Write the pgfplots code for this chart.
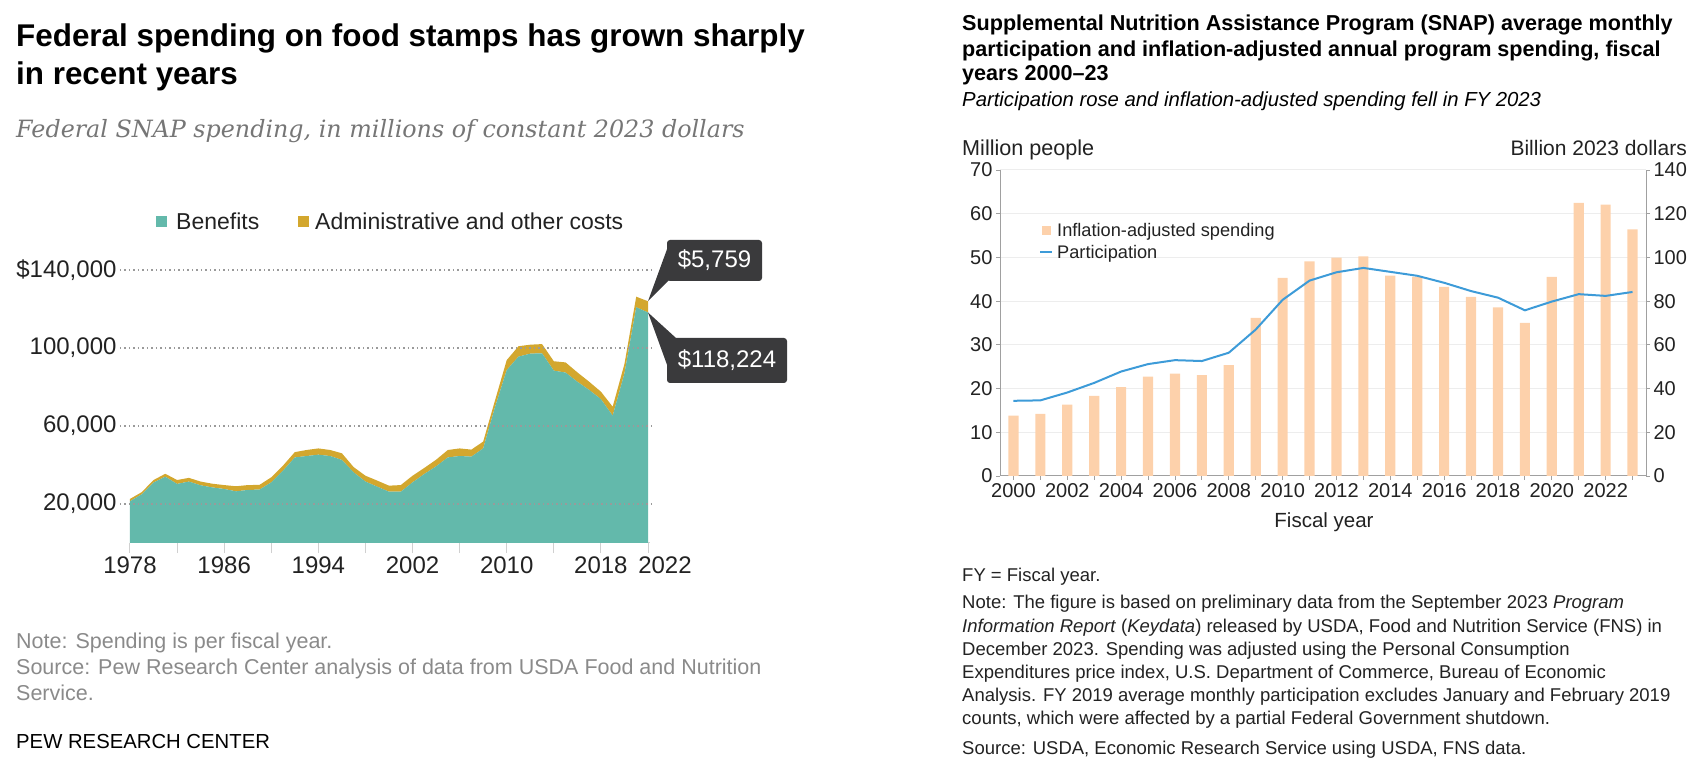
\documentclass[border=0pt]{standalone}
\usepackage{pgfplots}
\pgfplotsset{compat=1.18}
\usepackage{pgfplotstable}
\usepackage{fontspec}
\setmainfont{Liberation Sans}
\newfontfamily\serifit{DejaVu Serif}

\definecolor{benC}{HTML}{63B9AB}
\definecolor{admC}{HTML}{D3A72E}
\definecolor{callC}{HTML}{3A3A3C}
\definecolor{noteC}{HTML}{8A8A8A}
\definecolor{subC}{HTML}{767676}
\definecolor{barC}{HTML}{FDD1AB}
\definecolor{lineC}{HTML}{3D9BD8}
\definecolor{gridC}{HTML}{EDEDED}
\definecolor{axC}{HTML}{A0A0A0}
\definecolor{txtC}{HTML}{222222}
\definecolor{dotC}{HTML}{9A9A9A}
\definecolor{baseC}{HTML}{D0D0D0}

\pgfplotstableread{
year benefits admin
1978 21400 1200
1979 25000 1100
1980 31000 1300
1981 34000 1500
1982 30300 2000
1983 31500 1900
1984 29600 1900
1985 28500 1900
1986 27700 2000
1987 26500 2600
1988 27200 2500
1989 27400 2400
1990 31100 2600
1991 37100 2600
1992 43900 2700
1993 44600 3100
1994 45300 3200
1995 44600 3100
1996 42600 3400
1997 36200 2700
1998 31500 3000
1999 28900 3100
2000 26300 3100
2001 26300 3400
2002 31100 3400
2003 35400 3100
2004 39300 3400
2005 43900 3800
2006 44600 3900
2007 44300 3600
2008 48500 3500
2009 69600 3400
2010 88700 5100
2011 95600 5300
2012 97100 4600
2013 97300 4700
2014 88400 4800
2015 87400 5200
2016 82700 4800
2017 78500 4200
2018 73800 3800
2019 65300 4600
2020 87000 4800
2021 120900 5400
2022 118224 5759
}\pewdata

\pgfplotstableread{
year spending participation
2000 27.6 17.2
2001 28.4 17.3
2002 32.6 19.1
2003 36.7 21.3
2004 40.7 23.9
2005 45.5 25.6
2006 46.8 26.5
2007 46.2 26.3
2008 50.7 28.2
2009 72.4 33.5
2010 90.6 40.3
2011 98.2 44.7
2012 99.9 46.6
2013 100.5 47.6
2014 91.7 46.7
2015 91.1 45.8
2016 86.5 44.2
2017 82.0 42.3
2018 77.1 40.8
2019 70.1 37.9
2020 91.1 39.9
2021 125.0 41.6
2022 124.2 41.2
2023 112.8 42.1
}\snapdata

\begin{document}
\begin{tikzpicture}
\begin{scope}[x=1pt,y=1pt]
\path[use as bounding box] (0,0) rectangle (1704,763);

% ---------------- LEFT PANEL ----------------
\node[anchor=base west, inner sep=0, text=black] at (16,716.6)
  {\fontsize{31.4}{36}\selectfont\bfseries Federal spending on food stamps has grown sharply};
\node[anchor=base west, inner sep=0, text=black] at (16,678)
  {\fontsize{31.4}{36}\selectfont\bfseries in recent years};
\node[anchor=base west, inner sep=0, text=subC] at (16,625)
  {\serifit\itshape\fontsize{23.8}{28}\selectfont Federal SNAP spending, in millions of constant 2023 dollars};

% legend
\fill[benC] (156,535.5) rectangle (167,546.5);
\node[anchor=base west, inner sep=0, text=txtC] at (176,533)
  {\fontsize{23}{28}\selectfont Benefits};
\fill[admC] (298,535.5) rectangle (309,546.5);
\node[anchor=base west, inner sep=0, text=txtC] at (315,533)
  {\fontsize{23}{28}\selectfont Administrative and other costs};
\end{scope}

\begin{axis}[
  at={(130pt,220pt)}, anchor=south west, scale only axis,
  width=518pt, height=273pt,
  xmin=1978, xmax=2022, ymin=0, ymax=140000,
  clip=false,
  stack plots=y,
  scaled y ticks=false,
  axis x line*=bottom, axis y line*=left,
  y axis line style={draw=none},
  x axis line style={draw=baseC, line width=1pt, shorten >=-2pt, -},
  xtick={1978,1982,...,2022},
  xticklabels={1978,,1986,,1994,,2002,,2010,,2018,{\hspace*{34pt}2022}},
  minor x tick num=3,
  major tick length=10pt, minor tick length=4pt,
  tick align=outside,
  x tick style={draw=baseC, line width=1pt},
  ytick={20000,60000,100000,140000},
  yticklabels={{20,000},{60,000},{100,000},{\$140,000}},
  y tick style={draw=none},
  tick label style={font=\fontsize{24}{28}\selectfont, text=txtC},
]
\draw[dotC, line width=1.3pt, dash pattern=on 1.3pt off 3.2pt] (axis cs:1977.15,20000) -- (axis cs:2022.45,20000);
\draw[dotC, line width=1.3pt, dash pattern=on 1.3pt off 3.2pt] (axis cs:1977.15,60000) -- (axis cs:2022.45,60000);
\draw[dotC, line width=1.3pt, dash pattern=on 1.3pt off 3.2pt] (axis cs:1977.15,100000) -- (axis cs:2022.45,100000);
\draw[dotC, line width=1.3pt, dash pattern=on 1.3pt off 3.2pt] (axis cs:1977.15,140000) -- (axis cs:2022.45,140000);
\addplot[fill=benC, draw=none] table[x=year, y=benefits]{\pewdata} \closedcycle;
\addplot[fill=admC, draw=none] table[x=year, y=admin]{\pewdata} \closedcycle;
\end{axis}

\begin{scope}[x=1pt,y=1pt]
% callouts
\fill[callC, rounded corners=3pt] (667,482) rectangle (762,523);
\fill[callC] (670,522) -- (648,461.8) -- (670,484) -- cycle;
\node[text=white, inner sep=0] at (714.5,502.5) {\fontsize{24}{28}\selectfont \$5,759};
\fill[callC, rounded corners=3pt] (667,380) rectangle (787,425);
\fill[callC] (676,425) -- (648,450.5) -- (670,390) -- cycle;
\node[text=white, inner sep=0] at (727,402.5) {\fontsize{24}{28}\selectfont \$118,224};

% notes
\node[anchor=base west, inner sep=0, text=noteC] at (16,115)
  {\fontsize{21.5}{24}\selectfont Note: Spending is per fiscal year.};
\node[anchor=base west, inner sep=0, text=noteC] at (16,89)
  {\fontsize{21.5}{24}\selectfont Source: Pew Research Center analysis of data from USDA Food and Nutrition};
\node[anchor=base west, inner sep=0, text=noteC] at (16,63)
  {\fontsize{21.5}{24}\selectfont Service.};
\node[anchor=base west, inner sep=0, text=black] at (16,15)
  {\fontsize{20.3}{24}\selectfont PEW RESEARCH CENTER};

% ---------------- RIGHT PANEL ----------------
\node[anchor=base west, inner sep=0, text=black] at (962,732)
  {\fontsize{21.6}{24}\selectfont\bfseries Supplemental Nutrition Assistance Program (SNAP) average monthly};
\node[anchor=base west, inner sep=0, text=black] at (962,706)
  {\fontsize{21.6}{24}\selectfont\bfseries participation and inflation-adjusted annual program spending, fiscal};
\node[anchor=base west, inner sep=0, text=black] at (962,682)
  {\fontsize{21.6}{24}\selectfont\bfseries years 2000--23};
\node[anchor=base west, inner sep=0, text=black] at (962,656)
  {\fontsize{20.3}{22}\selectfont\itshape Participation rose and inflation-adjusted spending fell in FY 2023};
\node[anchor=base west, inner sep=0, text=txtC] at (962,607)
  {\fontsize{21.6}{24}\selectfont Million people};
\node[anchor=base east, inner sep=0, text=txtC] at (1687,607)
  {\fontsize{21}{24}\selectfont Billion 2023 dollars};
\end{scope}

\begin{axis}[
  at={(1000pt,287pt)}, anchor=south west, scale only axis,
  width=646pt, height=306pt,
  xmin=1999.5, xmax=2023.5, ymin=0, ymax=140,
  axis x line*=bottom, axis y line*=right,
  axis line style={draw=axC, line width=1pt, -},
  ytick={0,20,...,140},
  yticklabels={0,20,40,60,80,100,120,140},
  ymajorgrids, grid style={draw=gridC, line width=1pt},
  xtick={2000,2002,...,2022},
  xticklabels={2000,2002,2004,2006,2008,2010,2012,2014,2016,2018,2020,2022},
  minor xtick={2001,2003,...,2023},
  tick align=outside, major tick length=4pt, minor tick length=4pt,
  tick style={draw=axC, line width=0.8pt},
  tick label style={font=\fontsize{20}{24}\selectfont, text=txtC},
]
\addplot[ybar, bar width=10.2pt, fill=barC, draw=none] table[x=year, y=spending]{\snapdata};
\end{axis}

\begin{axis}[
  at={(1000pt,287pt)}, anchor=south west, scale only axis,
  width=646pt, height=306pt,
  xmin=1999.5, xmax=2023.5, ymin=0, ymax=70,
  axis x line=none, axis y line*=left,
  axis line style={draw=axC, line width=1pt, -},
  ytick={0,10,...,70},
  yticklabels={0,10,20,30,40,50,60,70},
  tick align=outside, major tick length=4pt,
  tick style={draw=axC, line width=0.8pt},
  tick label style={font=\fontsize{20}{24}\selectfont, text=txtC},
]
\addplot[lineC, line width=2pt] table[x=year, y=participation]{\snapdata};
\end{axis}

\begin{scope}[x=1pt,y=1pt]
\node[anchor=base, inner sep=0, text=txtC] at (1324,235)
  {\fontsize{20.5}{24}\selectfont Fiscal year};

% legend right
\fill[barC] (1042,527.5) rectangle (1051,536.5);
\node[anchor=base west, inner sep=0, text=txtC] at (1057,526)
  {\fontsize{18.2}{22}\selectfont Inflation-adjusted spending};
\draw[lineC, line width=2pt] (1040,511) -- (1052,511);
\node[anchor=base west, inner sep=0, text=txtC] at (1057,504)
  {\fontsize{18.2}{22}\selectfont Participation};

% notes right
\node[anchor=base west, inner sep=0, text=txtC] at (962,181)
  {\fontsize{18.5}{22}\selectfont FY = Fiscal year.};
\node[anchor=base west, inner sep=0, text=txtC] at (962,154)
  {\fontsize{18.5}{22}\selectfont Note: The figure is based on preliminary data from the September 2023 \textit{Program}};
\node[anchor=base west, inner sep=0, text=txtC] at (962,131)
  {\fontsize{18.5}{22}\selectfont \textit{Information Report} (\textit{Keydata}) released by USDA, Food and Nutrition Service (FNS) in};
\node[anchor=base west, inner sep=0, text=txtC] at (962,108)
  {\fontsize{18.5}{22}\selectfont December 2023. Spending was adjusted using the Personal Consumption};
\node[anchor=base west, inner sep=0, text=txtC] at (962,85)
  {\fontsize{18.5}{22}\selectfont Expenditures price index, U.S. Department of Commerce, Bureau of Economic};
\node[anchor=base west, inner sep=0, text=txtC] at (962,62)
  {\fontsize{18.5}{22}\selectfont Analysis. FY 2019 average monthly participation excludes January and February 2019};
\node[anchor=base west, inner sep=0, text=txtC] at (962,39)
  {\fontsize{18.5}{22}\selectfont counts, which were affected by a partial Federal Government shutdown.};
\node[anchor=base west, inner sep=0, text=txtC] at (962,9)
  {\fontsize{18.5}{22}\selectfont Source: USDA, Economic Research Service using USDA, FNS data.};
\end{scope}
\end{tikzpicture}
\end{document}
